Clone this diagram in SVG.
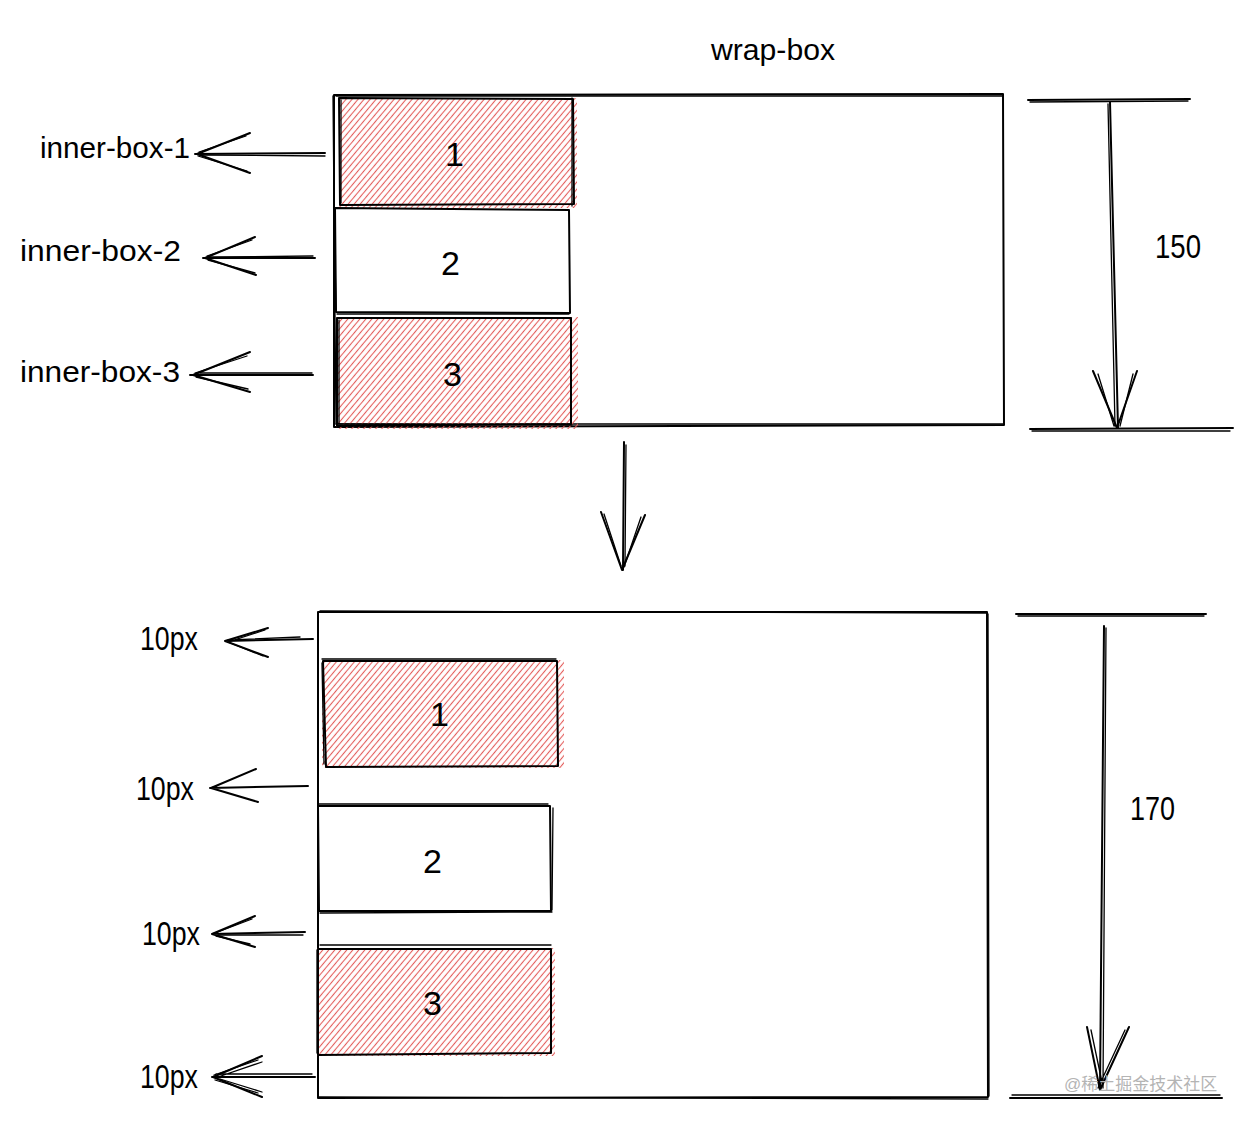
<svg xmlns="http://www.w3.org/2000/svg" width="1254" height="1122" viewBox="0 0 1254 1122">
<style>
.ln{fill:none;stroke:#000;stroke-width:2;stroke-linecap:round;stroke-linejoin:round}
.ln2{fill:none;stroke:#000;stroke-width:1.3;stroke-linecap:round}
.t{font-family:"Liberation Sans","Open Sans",sans-serif;font-size:30px;fill:#000}
.d{font-family:"Liberation Sans","Open Sans",sans-serif;font-size:34px;fill:#000}
.wm{font-family:"Liberation Sans","Noto Sans CJK SC",sans-serif;font-size:17px;fill:#b4b4b4}
.hatch{fill:url(#hp)}
</style>
<defs>
<pattern id="hp" width="4.6" height="6" patternUnits="userSpaceOnUse" patternTransform="rotate(40)">
<line x1="2.3" y1="0" x2="2.3" y2="6" stroke="#e35d5b" stroke-width="1.1"/>
</pattern>
</defs>
<rect width="1254" height="1122" fill="#fff"/>

<text class="t" x="711" y="60" textLength="124" lengthAdjust="spacingAndGlyphs">wrap-box</text>

<g id="wrap-top">
<path class="ln" d="M334 95 L1003 94 L1004 425 L334 427 Z"/>
<path class="ln2" d="M336 96 L1002 96 M333 96 L336 424 M336 424 L1003 424"/>
</g>
<g id="top-box-1">
<rect class="hatch" x="339" y="98" width="238" height="110"/>
<path class="ln" d="M339 98 L573 99 L574 204 L340 205 Z"/>
<path class="ln2" d="M341 100 L341 203 M572 98 L572 206"/>
<text class="d" x="445" y="166">1</text>
</g>
<g id="top-box-2">
<path class="ln" d="M335 208 L569 210 L570 313 L336 312 Z"/>
<path class="ln2" d="M334 207 L336 311 M337 314 L569 314"/>
<text class="d" x="441" y="275">2</text>
</g>
<g id="top-box-3">
<rect class="hatch" x="336" y="317" width="242" height="112"/>
<path class="ln" d="M337 318 L571 318 L571 424 L337 426 Z"/>
<path class="ln2" d="M339 320 L339 423 M336 424 L572 425"/>
<text class="d" x="443" y="386">3</text>
</g>
<g id="lbl-top">
<text class="t" x="40" y="158" textLength="150" lengthAdjust="spacingAndGlyphs">inner-box-1</text>
<text class="t" x="20" y="261" textLength="161" lengthAdjust="spacingAndGlyphs">inner-box-2</text>
<text class="t" x="20" y="382" textLength="160" lengthAdjust="spacingAndGlyphs">inner-box-3</text>
<text class="d" x="1155" y="258" textLength="46" lengthAdjust="spacingAndGlyphs">150</text>
</g>

<g id="wrap-bottom">
<path class="ln" d="M318 612 L987 612 L988 1097 L318 1098 Z"/>
<path class="ln2" d="M320 611 L986 613 M988 614 L989 1096 M319 1097 L988 1099"/>
</g>
<g id="bot-box-1">
<rect class="hatch" x="322" y="660" width="242" height="108"/>
<path class="ln" d="M323 661 L557 661 L558 766 L326 767 Z"/>
<path class="ln2" d="M322 663 L324 764 M322 659 L556 659"/>
<text class="d" x="430" y="726">1</text>
</g>
<g id="bot-box-2">
<path class="ln" d="M318 806 L550 806 L551 911 L319 911 Z"/>
<path class="ln2" d="M318 804 L548 804 M553 808 L552 910 M320 913 L552 912"/>
<text class="d" x="423" y="873">2</text>
</g>
<g id="bot-box-3">
<rect class="hatch" x="317" y="948" width="238" height="108"/>
<path class="ln" d="M318 949 L551 949 L551 1053 L318 1055 Z"/>
<path class="ln2" d="M320 945 L551 945 M317 950 L317 1053"/>
<text class="d" x="423" y="1015">3</text>
</g>
<g id="lbl-bottom">
<text class="d" x="140" y="650" textLength="58" lengthAdjust="spacingAndGlyphs">10px</text>
<text class="d" x="136" y="800" textLength="58" lengthAdjust="spacingAndGlyphs">10px</text>
<text class="d" x="142" y="945" textLength="58" lengthAdjust="spacingAndGlyphs">10px</text>
<text class="d" x="140" y="1088" textLength="58" lengthAdjust="spacingAndGlyphs">10px</text>
<text class="d" x="1130" y="820" textLength="45" lengthAdjust="spacingAndGlyphs">170</text>
</g>

<g id="connectors">
<path class="ln" d="M325 153 L195 154 M250 133 L197 154 L250 173"/>
<path class="ln2" d="M325 156 L200 155 M246 136 L199 152 M247 171 L198 156"/>
<path class="ln" d="M315 258 L203 258 M255 237 L205 258 L256 275"/>
<path class="ln2" d="M313 256 L210 257 M252 240 L207 256 M255 273 L208 260"/>
<path class="ln" d="M313 375 L190 375 M250 352 L193 375 L250 392"/>
<path class="ln2" d="M312 373 L200 373 M247 356 L195 373 M248 389 L196 377"/>
<path class="ln" d="M1028 100 L1190 99 M1030 429 L1233 428"/>
<path class="ln2" d="M1030 102 L1188 101 M1032 431 L1230 431"/>
<path class="ln" d="M1110 102 L1118 428 M1093 371 L1117 428 L1137 371"/>
<path class="ln2" d="M1108 104 L1115 426 M1098 374 L1114 426 M1133 374 L1120 426"/>
<path class="ln" d="M624 442 L623 570 M601 512 L622 570 L645 515"/>
<path class="ln2" d="M626 445 L625 566 M604 514 L621 566 M641 517 L624 567"/>
<path class="ln" d="M313 639 L225 641 M268 628 L225 641 L268 657"/>
<path class="ln2" d="M300 637 L230 640 M265 630 L228 642 M263 656 L228 642"/>
<path class="ln" d="M308 786 L210 788 M256 769 L211 788 L258 802"/>
<path class="ln" d="M305 932 L212 934 M255 916 L212 934 L255 947"/>
<path class="ln2" d="M303 935 L218 935 M252 919 L215 933 M250 944 L216 936"/>
<path class="ln" d="M315 1077 L212 1077 M262 1056 L213 1077 L262 1097"/>
<path class="ln2" d="M312 1074 L216 1074 M258 1060 L214 1075 M258 1093 L215 1080 M262 1062 L218 1077 M262 1092 L220 1079"/>
<path class="ln" d="M1016 614 L1206 614 M1010 1098 L1222 1098"/>
<path class="ln2" d="M1018 616 L1204 616 M1012 1095 L1220 1095"/>
<path class="ln" d="M1104 626 L1100 1090 M1087 1027 L1100 1090 L1129 1027"/>
<path class="ln2" d="M1106 628 L1103 1088 M1091 1030 L1103 1087 M1125 1030 L1098 1088"/>
</g>
<text class="wm" x="1064" y="1090">@稀土掘金技术社区</text>
</svg>
